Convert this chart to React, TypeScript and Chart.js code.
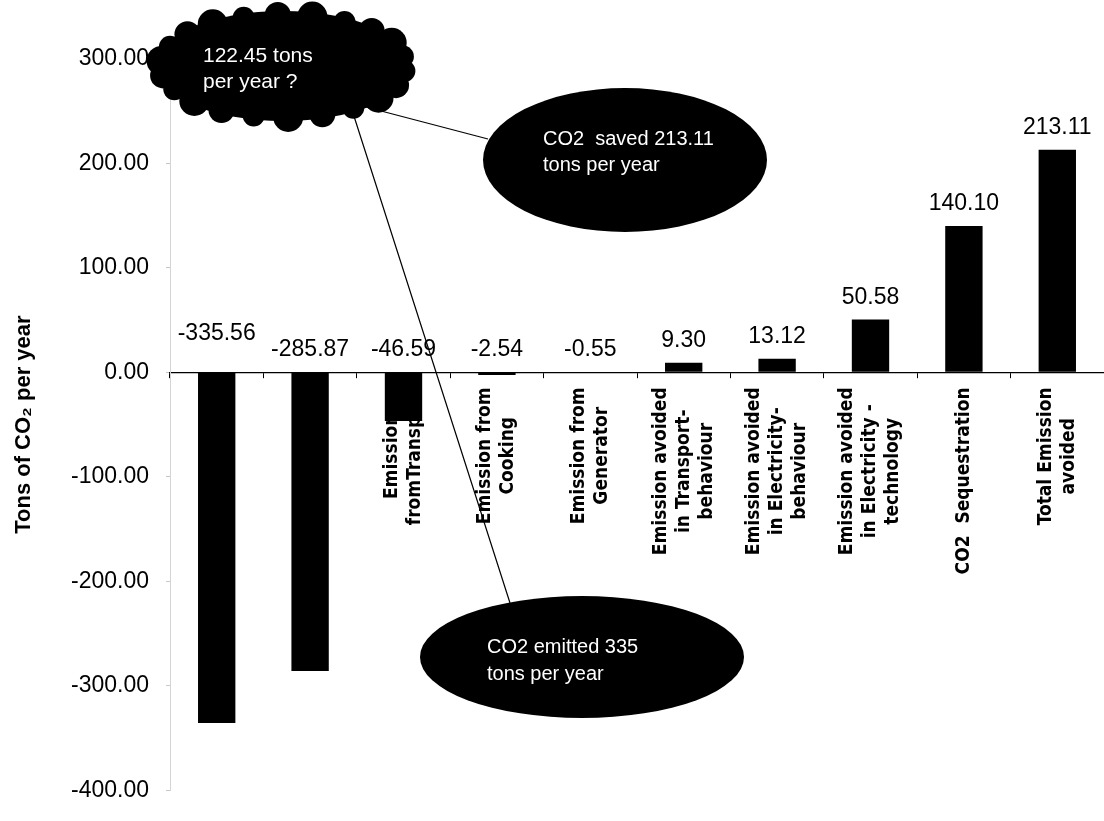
import React, { useEffect, useRef } from "react";
import { Chart, registerables } from "chart.js";

Chart.register(...registerables);

// ---- data ----
const categories: string[][] = [
  ["Total Emission"],
  ["Emission from Electricity"],
  ["Emission", "fromTransport"],
  ["Emission from", "Cooking"],
  ["Emission from", "Generator"],
  ["Emission avoided", "in Transport-", "behaviour"],
  ["Emission avoided", "in Electricity-", "behaviour"],
  ["Emission avoided", "in Electricity -", "technology"],
  ["CO2  Sequestration"],
  ["Total Emission", "avoided"],
];
const values: number[] = [-335.56, -285.87, -46.59, -2.54, -0.55, 9.3, 13.12, 50.58, 140.1, 213.11];
const yMin = -400;
const yMax = 300;
const yStep = 100;
const yTitle = "Tons of CO\u2082 per year";
const cloudText = ["122.45 tons", "per year ?"];
const savedText = ["CO2  saved 213.11", "tons per year"];
const emittedText = ["CO2 emitted 335", "tons per year"];

const SANS = "'Liberation Sans', Arial, sans-serif";
const LABEL_FONT = "bold 19px 'DejaVu Sans Condensed', 'DejaVu Sans', sans-serif";
const LABEL_LINE = 23;

const categoryLabelPlugin = {
  id: "categoryLabels",
  beforeDatasetsDraw(chart: any) {
    const { ctx } = chart;
    const xs = chart.scales.x;
    const ys = chart.scales.y;
    const zeroY = ys.getPixelForValue(0);
    ctx.save();
    ctx.font = LABEL_FONT;
    ctx.fillStyle = "#000";
    ctx.textAlign = "center";
    ctx.textBaseline = "middle";
    categories.forEach((lines, i) => {
      const x = xs.getPixelForValue(i);
      const maxW = Math.max(...lines.map((l) => ctx.measureText(l).width));
      const cy = zeroY + 15 + maxW / 2;
      ctx.save();
      ctx.translate(x, cy);
      ctx.rotate(-Math.PI / 2);
      lines.forEach((l, j) => {
        ctx.fillText(l, 0, (j - (lines.length - 1) / 2) * LABEL_LINE);
      });
      ctx.restore();
    });
    ctx.restore();
  },
};

const valueLabelPlugin = {
  id: "valueLabels",
  afterDatasetsDraw(chart: any) {
    const { ctx } = chart;
    const meta = chart.getDatasetMeta(0);
    const zeroY = chart.scales.y.getPixelForValue(0);
    ctx.save();
    ctx.font = `23px ${SANS}`;
    ctx.fillStyle = "#000";
    ctx.textAlign = "center";
    ctx.textBaseline = "alphabetic";
    meta.data.forEach((bar: any, i: number) => {
      const v = values[i];
      const top = v >= 0 ? bar.y : zeroY;
      const lift = i === 0 ? 32 : 16;
      ctx.fillText(v.toFixed(2), bar.x, top - lift);
    });
    ctx.restore();
  },
};

const annotationPlugin = {
  id: "calloutShapes",
  afterDraw(chart: any) {
    const { ctx } = chart;
    ctx.save();
    // connector lines
    ctx.strokeStyle = "#000";
    ctx.lineWidth = 1.2;
    ctx.beginPath();
    ctx.moveTo(362, 106);
    ctx.lineTo(488, 139);
    ctx.moveTo(352, 110);
    ctx.lineTo(510, 603);
    ctx.stroke();

    ctx.fillStyle = "#000";
    // cloud: smooth body with mildly scalloped rim
    const cx = 283;
    const cy = 66;
    ctx.beginPath();
    ctx.ellipse(cx, cy, 128, 55, 0, 0, Math.PI * 2);
    ctx.fill();
    const n = 22;
    for (let k = 0; k < n; k++) {
      const a = (k / n) * Math.PI * 2 + 0.1;
      const bx = cx + 122 * Math.cos(a);
      const by = cy + 51 * Math.sin(a);
      const r = 11 + (k % 3) * 2;
      ctx.beginPath();
      ctx.arc(bx, by, r, 0, Math.PI * 2);
      ctx.fill();
    }
    // ellipses
    ctx.beginPath();
    ctx.ellipse(625, 160, 142, 72, 0, 0, Math.PI * 2);
    ctx.fill();
    ctx.beginPath();
    ctx.ellipse(582, 657, 162, 61, 0, 0, Math.PI * 2);
    ctx.fill();

    // texts
    ctx.fillStyle = "#fff";
    ctx.font = `21px ${SANS}`;
    ctx.textAlign = "left";
    ctx.textBaseline = "alphabetic";
    ctx.fillText(cloudText[0], 203, 62);
    ctx.fillText(cloudText[1], 203, 88);
    ctx.font = `20px ${SANS}`;
    ctx.fillText(savedText[0], 543, 145);
    ctx.fillText(savedText[1], 543, 171);
    ctx.fillText(emittedText[0], 487, 653);
    ctx.fillText(emittedText[1], 487, 680);
    ctx.restore();
  },
};

export default function App() {
  const ref = useRef<HTMLCanvasElement | null>(null);
  useEffect(() => {
    if (!ref.current) return;
    const chart = new Chart(ref.current, {
      type: "bar",
      data: {
        labels: categories.map((c) => c.join(" ")),
        datasets: [
          {
            data: values,
            backgroundColor: "#000",
            borderWidth: 0,
            barPercentage: 0.4,
            categoryPercentage: 1,
          },
        ],
      },
      options: {
        animation: false,
        responsive: false,
        devicePixelRatio: 1,
        layout: { padding: { left: 0, top: 59, right: -7, bottom: 16 } },
        plugins: { legend: { display: false }, tooltip: { enabled: false }, title: { display: false } },
        scales: {
          x: {
            position: { y: 0 } as any,
            grid: { drawOnChartArea: false, drawTicks: true, tickLength: 5, color: "#000", offset: true },
            border: { color: "#000", width: 1.2 },
            ticks: { display: false },
          },
          y: {
            min: yMin,
            max: yMax,
            afterFit: (s: any) => {
              s.width = 170;
            },
            ticks: {
              stepSize: yStep,
              color: "#000",
              padding: 17,
              font: { family: SANS, size: 23 },
              callback: (v: any) => Number(v).toFixed(2),
            },
            grid: { drawOnChartArea: false, drawTicks: true, tickLength: 4, color: "#c8c8c8" },
            border: { color: "#d4d4d4", width: 1 },
            title: {
              display: true,
              text: yTitle,
              color: "#000",
              font: { family: SANS, size: 22, weight: "bold" },
              padding: { top: 11, bottom: 0 },
            },
          },
        },
      },
      plugins: [categoryLabelPlugin, valueLabelPlugin, annotationPlugin],
    });
    return () => chart.destroy();
  }, []);
  return (
    <div style={{ position: "absolute", left: 0, top: 0, width: 1104, height: 821, background: "#fff" }}>
      <canvas ref={ref} width={1104} height={821} style={{ display: "block" }} />
    </div>
  );
}
